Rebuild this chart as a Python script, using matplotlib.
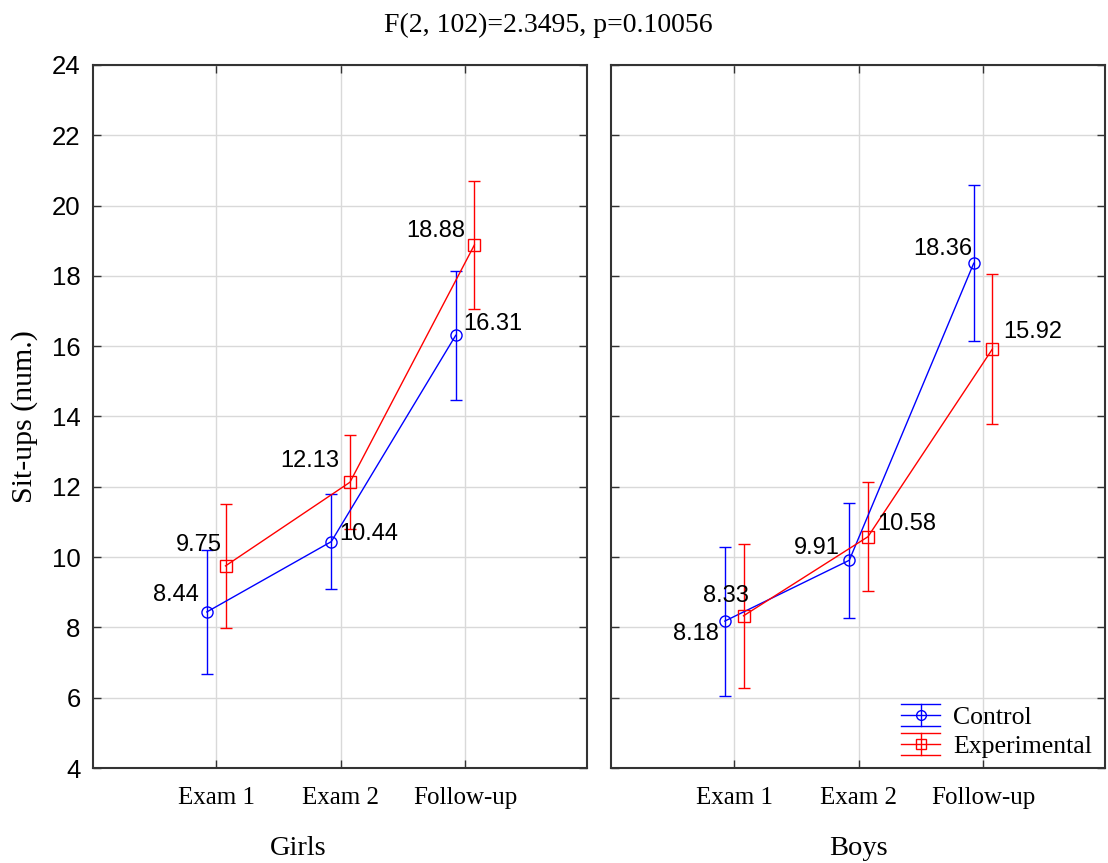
import matplotlib
matplotlib.use("Agg")
import matplotlib.pyplot as plt
from matplotlib.lines import Line2D
from matplotlib.legend_handler import HandlerBase
from matplotlib.container import ErrorbarContainer

# ---- data ----
occasions = ["Exam 1", "Exam 2", "Follow-up"]
groups = ["Girls", "Boys"]
series_names = ["Control", "Experimental"]

girls_control = [8.44, 10.44, 16.31]
girls_control_lo = [6.68, 9.09, 14.47]
girls_control_hi = [10.20, 11.79, 18.15]

girls_exp = [9.75, 12.13, 18.88]
girls_exp_lo = [7.99, 10.79, 17.05]
girls_exp_hi = [11.51, 13.47, 20.71]

boys_control = [8.18, 9.91, 18.36]
boys_control_lo = [6.06, 8.28, 16.14]
boys_control_hi = [10.30, 11.54, 20.58]

boys_exp = [8.33, 10.58, 15.92]
boys_exp_lo = [6.29, 9.03, 13.80]
boys_exp_hi = [10.37, 12.13, 18.04]

title_text = "F(2, 102)=2.3495, p=0.10056"
y_label = "Sit-ups (num.)"
y_ticks = [4, 6, 8, 10, 12, 14, 16, 18, 20, 22, 24]

# ---- style ----
SERIF = "Liberation Serif"
SANS = "Liberation Sans"
BLUE = "#0000ff"
RED = "#ff0000"
GRID = "#d9d9d9"
SPINE = "#333333"
FS = 17

# per-point value-label placement (pixel offsets from the marker, alignment)
label_pos = {
    ("Girls", 0): [(-8, 17, "right"), (8, 8, "left"), (8, 11, "left")],
    ("Girls", 1): [(-4, 21, "right"), (-11, 21, "right"), (-9, 14, "right")],
    ("Boys", 0): [(-6, -13, "right"), (-10, 12, "right"), (-1, 14, "right")],
    ("Boys", 1): [(-18, 20, "center"), (9, 13, "left"), (11, 17, "left")],
}

data = {
    "Girls": [(girls_control, girls_control_lo, girls_control_hi),
              (girls_exp, girls_exp_lo, girls_exp_hi)],
    "Boys": [(boys_control, boys_control_lo, boys_control_hi),
             (boys_exp, boys_exp_lo, boys_exp_hi)],
}
colors = [BLUE, RED]
markers = ["o", "s"]
shift = [-0.075, 0.075]


class IBeamHandler(HandlerBase):
    """Legend key: horizontal line with marker, vertical bar and full-width caps."""

    def create_artists(self, legend, orig_handle, xdescent, ydescent,
                       width, height, fontsize, trans):
        ln = orig_handle.lines[0]
        color = ln.get_color()
        mk = ln.get_marker()
        x0, x1 = -xdescent, -xdescent + width
        y0, y1 = -ydescent, -ydescent + height
        xm, ym = (x0 + x1) / 2, (y0 + y1) / 2
        arts = [
            Line2D([x0, x1], [ym, ym], color=color, lw=1.0),
            Line2D([xm, xm], [y0, y1], color=color, lw=1.0),
            Line2D([x0, x1], [y0, y0], color=color, lw=1.0),
            Line2D([x0, x1], [y1, y1], color=color, lw=1.0),
            Line2D([xm], [ym], marker=mk, markersize=7, markerfacecolor="none",
                   markeredgecolor=color, markeredgewidth=1.0, linestyle="none"),
        ]
        for a in arts:
            a.set_transform(trans)
        return arts


fig = plt.figure(figsize=(11.08, 8.63), dpi=100)
W, H = 1108, 863
ax_left = fig.add_axes([93 / W, 1 - 768 / H, 494 / W, 703 / H])
ax_right = fig.add_axes([611 / W, 1 - 768 / H, 494 / W, 703 / H])

handles = []
for ax, grp in zip([ax_left, ax_right], groups):
    xs = list(range(len(occasions)))
    for s, (vals, lo, hi) in enumerate(data[grp]):
        xp = [x + shift[s] for x in xs]
        err = [[v - l for v, l in zip(vals, lo)], [h - v for v, h in zip(vals, hi)]]
        cont = ax.errorbar(xp, vals, yerr=err, color=colors[s], lw=1.0,
                           elinewidth=1.0, capsize=4.3, capthick=1.0,
                           marker=markers[s], markersize=8,
                           markerfacecolor="none", markeredgecolor=colors[s],
                           markeredgewidth=1.0, zorder=3)
        if grp == "Boys":
            handles.append(cont)
        for i, (x, v) in enumerate(zip(xp, vals)):
            dx, dy, ha = label_pos[(grp, s)][i]
            ax.annotate(f"{v:.2f}", (x, v), xytext=(dx, dy),
                        textcoords="offset pixels", ha=ha, va="center",
                        fontsize=FS, family=SANS, color="black", zorder=4)

    ax.set_xlim(-0.99, 2.98)
    ax.set_ylim(4, 24)
    ax.set_xticks(range(len(occasions)))
    ax.set_xticklabels(occasions, family=SERIF, fontsize=18)
    ax.set_yticks(y_ticks)
    ax.grid(True, color=GRID, lw=1.0, zorder=0)
    ax.set_axisbelow(True)
    for sp in ax.spines.values():
        sp.set_color(SPINE)
        sp.set_linewidth(1.5)
    ax.tick_params(axis="both", direction="in", length=6, width=1.0,
                   color=SPINE, top=True, right=True)
    ax.tick_params(axis="x", pad=14)
    ax.tick_params(axis="y", pad=9, labelsize=18.5)
    for t in ax.get_yticklabels():
        t.set_family(SANS)

ax_right.set_yticklabels([])

ax_right.legend(handles, series_names, handler_map={ErrorbarContainer: IBeamHandler()},
                loc="lower right", bbox_to_anchor=(0.994, 0.0), frameon=False,
                prop={"family": SERIF, "size": 18.5}, handlelength=1.52,
                handleheight=0.9, handletextpad=0.5, labelspacing=0.17,
                borderaxespad=0.0)

fig.text(548 / W, 1 - 25 / H, title_text, ha="center", va="center",
         family=SERIF, fontsize=20)
fig.text(25 / W, 1 - 417 / H, y_label, ha="center", va="center", rotation=90,
         family=SERIF, fontsize=21.5)
fig.text(298 / W, 1 - 848 / H, groups[0], ha="center", va="center",
         family=SERIF, fontsize=20.5)
fig.text(858 / W, 1 - 848 / H, groups[1], ha="center", va="center",
         family=SERIF, fontsize=20.5)

fig.savefig("out.png", dpi=100)
